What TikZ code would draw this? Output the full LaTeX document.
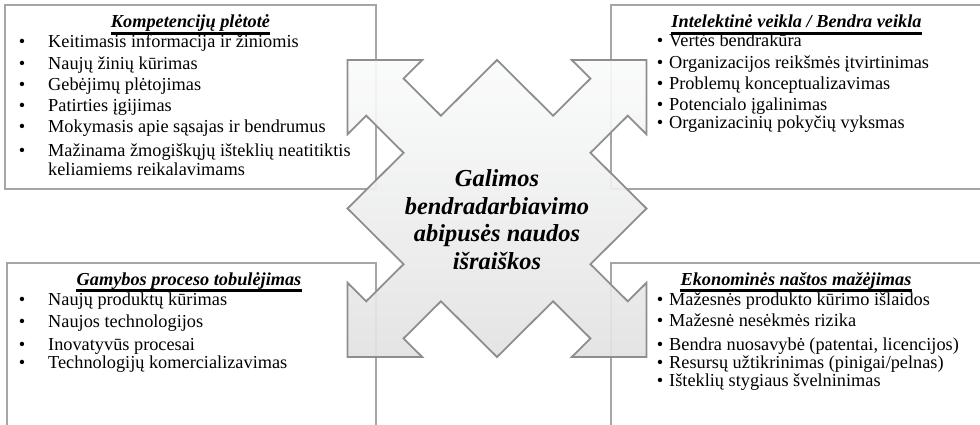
\documentclass[tikz,border=0pt]{standalone}
\usepackage{fontspec}
\setmainfont{Liberation Serif}
\definecolor{panelgray}{HTML}{A6A6A6}
\definecolor{arrowgray}{HTML}{8E8E8E}
\definecolor{hubtop}{HTML}{FAFBFB}
\definecolor{hubbottom}{HTML}{E2E2E2}
\tikzset{
  panel/.style={draw=panelgray, line width=1.8pt, anchor=north west, inner sep=0pt, outer sep=0pt},
  heading/.style={anchor=base, inner sep=0pt, font=\fontsize{18.3}{22}\selectfont\bfseries\itshape},
  item/.style={anchor=base west, inner sep=0pt, font=\fontsize{18.3}{22}\selectfont},
  dot/.style={anchor=base, inner sep=0pt, font=\fontsize{18.3}{22}\selectfont},
  uline/.style={line width=2.2pt, black},
  hubtext/.style={anchor=base, inner sep=0pt, font=\fontsize{24.4}{28}\selectfont\bfseries\itshape},
  hubshape/.style={draw=arrowgray, line width=1.8pt, top color=hubtop, bottom color=hubbottom,
    fill opacity=0.92, line join=miter},
}
\begin{document}
\begin{tikzpicture}[x=1pt, y=-1pt]
\useasboundingbox (0,0) rectangle (980,425);
\clip (0,0) rectangle (980,425);

% four panels (right and bottom ones run off the page)
\node[panel, minimum width=371pt, minimum height=184pt] (tlbox) at (5,5) {};
\node[panel, minimum width=374pt, minimum height=184pt] (trbox) at (611,5) {};
\node[panel, minimum width=369pt, minimum height=170pt] (blbox) at (7,263) {};
\node[panel, minimum width=374pt, minimum height=170pt] (brbox) at (611,263) {};

% central four-way arrow
\begin{scope}[shift={(497pt,-208.5pt)}, x=149.5pt, y=-148.5pt]
\path[hubshape] (0,-1) -- (0.375,-0.625) -- (0.625,-0.875) -- (0.5,-1) -- (1,-1)
  -- (1,-0.5) -- (0.875,-0.625) -- (0.625,-0.375) -- (1,0)
  -- (0.625,0.375) -- (0.875,0.625) -- (1,0.5) -- (1,1)
  -- (0.5,1) -- (0.625,0.875) -- (0.375,0.625) -- (0,1)
  -- (-0.375,0.625) -- (-0.625,0.875) -- (-0.5,1) -- (-1,1)
  -- (-1,0.5) -- (-0.875,0.625) -- (-0.625,0.375) -- (-1,0)
  -- (-0.625,-0.375) -- (-0.875,-0.625) -- (-1,-0.5) -- (-1,-1)
  -- (-0.5,-1) -- (-0.625,-0.875) -- (-0.375,-0.625) -- cycle;
\end{scope}

% central caption
\node[hubtext] (hub1) at (497,186) {Galimos};
\node[hubtext] (hub2) at (497,214) {bendradarbiavimo};
\node[hubtext] (hub3) at (497,241.5) {abipusės naudos};
\node[hubtext] (hub4) at (497,269) {išraiškos};

% panel headings with underlines
\node[heading] (tltitle) at (190.5,28) {Kompetencijų plėtotė};
\node[heading] (trtitle) at (796.5,28) {Intelektinė veikla / Bendra veikla};
\node[heading] (bltitle) at (189,285) {Gamybos proceso tobulėjimas};
\node[heading] (brtitle) at (796,285) {Ekonominės naštos mažėjimas};
\foreach \t in {tltitle,trtitle,bltitle,brtitle}
  \draw[uline] ([yshift=-5.5pt]\t.base west) -- ([yshift=-5.5pt]\t.base east);

% top-left list
\foreach \y/\s [count=\i] in {48/Keitimasis informacija ir žiniomis, 69.5/Naujų žinių kūrimas,
    90.5/Gebėjimų plėtojimas, 111.5/Patirties įgijimas, 132.5/Mokymasis apie sąsajas ir bendrumus,
    156.5/Mažinama žmogiškųjų išteklių neatitiktis} {
  \node[dot] (tldot\i) at (22,\y) {•};
  \node[item] (tlitem\i) at (48,\y) {\s};
}
\node[item] (tlitem7) at (48,175.5) {keliamiems reikalavimams};

% top-right list
\foreach \y/\s [count=\i] in {47/Vertės bendrakūra, 69/Organizacijos reikšmės įtvirtinimas,
    90/Problemų konceptualizavimas, 111/Potencialo įgalinimas, 129/Organizacinių pokyčių vyksmas} {
  \node[dot] (trdot\i) at (660,\y) {•};
  \node[item] (tritem\i) at (669,\y) {\s};
}

% bottom-left list
\foreach \y/\s [count=\i] in {305/Naujų produktų kūrimas, 327/Naujos technologijos,
    350/Inovatyvūs procesai, 368/Technologijų komercializavimas} {
  \node[dot] (bldot\i) at (22,\y) {•};
  \node[item] (blitem\i) at (48,\y) {\s};
}

% bottom-right list
\foreach \y/\s [count=\i] in {305.5/Mažesnės produkto kūrimo išlaidos, 326/Mažesnė nesėkmės rizika,
    350/{Bendra nuosavybė (patentai, licencijos)}, 368/{Resursų užtikrinimas (pinigai/pelnas)},
    386.5/Išteklių stygiaus švelninimas} {
  \node[dot] (brdot\i) at (660,\y) {•};
  \node[item] (britem\i) at (669,\y) {\s};
}
\end{tikzpicture}
\end{document}
